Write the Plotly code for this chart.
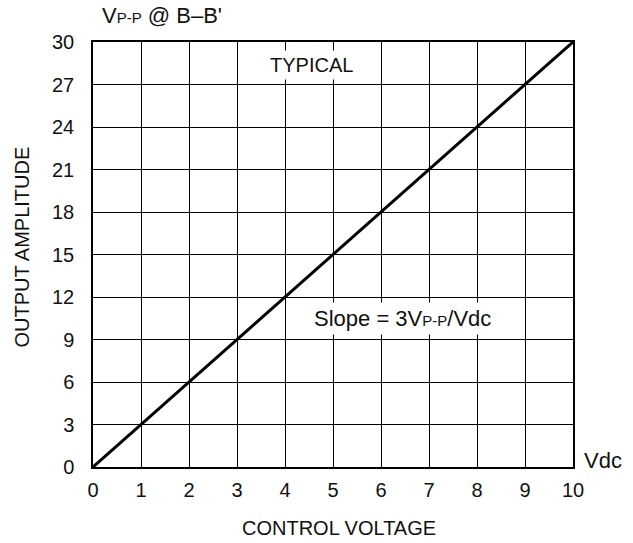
import plotly.graph_objects as go

control_voltage = [0, 10]
output_amplitude = [0, 30]
x_ticks = [0, 1, 2, 3, 4, 5, 6, 7, 8, 9, 10]
y_ticks = [0, 3, 6, 9, 12, 15, 18, 21, 24, 27, 30]

FONT = "Liberation Sans, Arial, Helvetica, sans-serif"
FS = 20
BIG = 22
SMALL = 15
COL = "#111"

fig = go.Figure()
fig.add_trace(go.Scatter(x=control_voltage, y=output_amplitude, mode="lines",
                         line=dict(color="black", width=3), showlegend=False,
                         hoverinfo="skip"))

axis_common = dict(showgrid=True, gridcolor="black", gridwidth=1.3,
                   showline=True, linecolor="black", linewidth=1.5, mirror=True,
                   zeroline=False, ticks="", automargin=False,
                   tickfont=dict(family=FONT, size=FS, color=COL))

fig.update_xaxes(range=[0, 10], tickvals=x_ticks, ticktext=[str(v) for v in x_ticks],
                 ticklabelstandoff=4, **axis_common)
fig.update_yaxes(range=[0, 30], tickvals=y_ticks, ticktext=[str(v) for v in y_ticks],
                 ticklabelstandoff=13, **axis_common)

# axis titles
fig.add_annotation(x=0.5, y=0, xref="paper", yref="paper", xanchor="center", yanchor="middle",
                   xshift=6, yshift=-61, text="CONTROL VOLTAGE", showarrow=False,
                   font=dict(family=FONT, size=FS, color=COL))
fig.add_annotation(x=0, y=0.5, xref="paper", yref="paper", xanchor="center", yanchor="middle",
                   xshift=-72, yshift=7, textangle=-90, text="OUTPUT AMPLITUDE", showarrow=False,
                   font=dict(family=FONT, size=FS, color=COL))

fig.add_annotation(x=4.56, y=28.4, xref="x", yref="y", text="TYPICAL", showarrow=False,
                   bgcolor="white", font=dict(family=FONT, size=FS, color=COL),
                   borderpad=3)
fig.add_annotation(x=6.44, y=10.5, xref="x", yref="y",
                   text=f"Slope = 3V<span style='font-size:{SMALL}px'>P-P</span>/Vdc", showarrow=False,
                   bgcolor="white", font=dict(family=FONT, size=BIG, color=COL),
                   borderpad=3)
fig.add_annotation(x=1.0, y=0, xref="paper", yref="paper", xanchor="left", yanchor="middle",
                   xshift=9, yshift=7,
                   text="Vdc", showarrow=False, font=dict(family=FONT, size=BIG, color=COL))
fig.add_annotation(x=0, y=1, xref="paper", yref="paper", xanchor="left", yanchor="middle",
                   xshift=7, yshift=27,
                   text=f"V<span style='font-size:{SMALL}px'>P-P</span> @ B–B'", showarrow=False,
                   font=dict(family=FONT, size=BIG, color=COL))

fig.update_layout(width=633, height=543, margin=dict(l=93, r=60, t=42, b=76),
                  paper_bgcolor="white", plot_bgcolor="white")

# remove the default 8px page margin so the figure sits at the window's corner
fig.write_html("out.html", config={"displayModeBar": False},
               post_script="document.body.style.margin='0';document.body.style.overflow='hidden';")
